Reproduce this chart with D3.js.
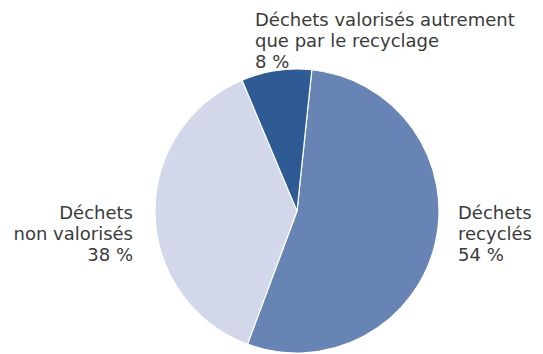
<!DOCTYPE html>
<html><head><meta charset="utf-8">
<script src="https://cdn.jsdelivr.net/npm/d3@7"></script>
<style>body{margin:0;background:#fff}svg{display:block}</style>
</head><body>
<svg id="c" width="543" height="354"></svg>
<script>
const categories = ["Déchets recyclés", "Déchets non valorisés", "Déchets valorisés autrement que par le recyclage"];
const values = [54, 38, 8];
const colors = ["#6884b5", "#d2d8ea", "#2f5b95"];
const labelLines = [
  ["Déchets", "recyclés", "54 %"],
  ["Déchets", "non valorisés", "38 %"],
  ["Déchets valorisés autrement", "que par le recyclage", "8 %"]
];

const svg = d3.select("#c");
const cx = 297, cy = 211, r = 142;
const startOffset = 6 * Math.PI / 180;
const pie = d3.pie().sort(null).value(d => d)
  .startAngle(startOffset).endAngle(startOffset + 2 * Math.PI);
const arc = d3.arc().innerRadius(0).outerRadius(r);
const g = svg.append("g").attr("transform", `translate(${cx},${cy})`);
g.selectAll("path").data(pie(values)).join("path")
  .attr("d", arc).attr("fill", (d, i) => colors[i])
  .attr("stroke", "#fff").attr("stroke-width", 1.2);

const labelPos = [
  {x: 458, y: 219, anchor: "start"},
  {x: 133, y: 219, anchor: "end"},
  {x: 255, y: 26, anchor: "start"}
];
const lh = 21.2;
labelLines.forEach((lines, i) => {
  const p = labelPos[i];
  const t = svg.append("text").attr("x", p.x).attr("y", p.y)
    .attr("text-anchor", p.anchor)
    .attr("font-family", "'DejaVu Sans', sans-serif")
    .attr("font-size", 18).attr("fill", "#3a3a3a");
  lines.forEach((s, j) => t.append("tspan").attr("x", p.x).attr("y", p.y + j * lh).text(s));
});
</script>
</body></html>
